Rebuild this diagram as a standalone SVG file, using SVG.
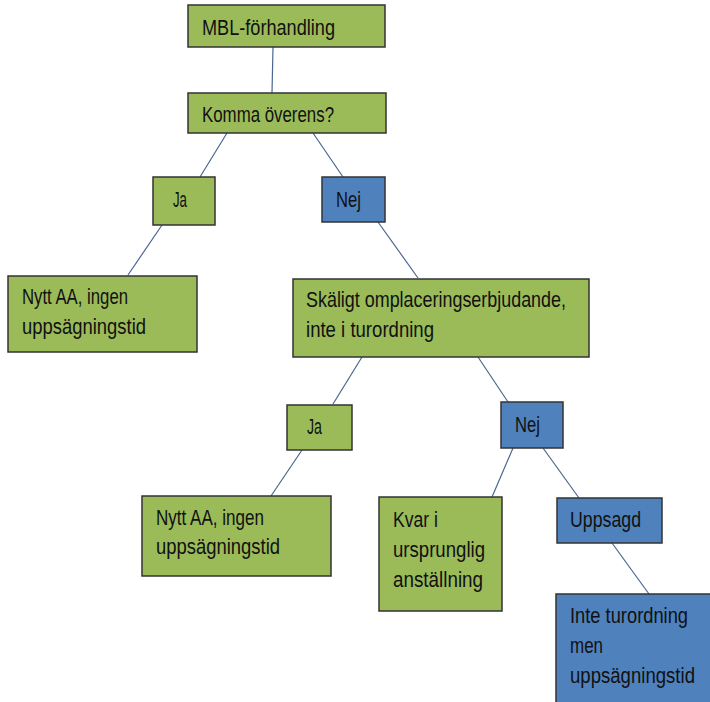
<svg xmlns="http://www.w3.org/2000/svg" width="710" height="702" viewBox="0 0 710 702">
<style>
.g{fill:#9BBB59;stroke:#333;stroke-width:1.5}
.b{fill:#4F81BD;stroke:#333;stroke-width:1.5}
text{font-family:"Liberation Sans Narrow","Liberation Sans",Arial,sans-serif;font-size:22px;fill:#111}
#connectors line{stroke:#4A6690;stroke-width:1.2}
</style>
<rect width="710" height="702" fill="#fff"/>
<g id="connectors">
<line x1="273" y1="47" x2="272" y2="93"/>
<line x1="227" y1="133" x2="200" y2="177"/>
<line x1="313" y1="133" x2="343" y2="177"/>
<line x1="162" y1="225" x2="128" y2="275"/>
<line x1="378" y1="222" x2="418" y2="278"/>
<line x1="362" y1="357" x2="333" y2="404"/>
<line x1="478" y1="357" x2="508" y2="402"/>
<line x1="302" y1="450" x2="271" y2="496"/>
<line x1="513" y1="448" x2="492" y2="497"/>
<line x1="543" y1="448" x2="579" y2="498"/>
<line x1="612" y1="543" x2="649" y2="594"/>
</g>
<g id="n1"><rect class="g" x="188" y="5" width="197" height="42"/><text x="202" y="35" textLength="133" lengthAdjust="spacingAndGlyphs">MBL-förhandling</text></g>
<g id="n2"><rect class="g" x="188" y="93" width="198" height="40"/><text x="202" y="122" textLength="132" lengthAdjust="spacingAndGlyphs">Komma överens?</text></g>
<g id="n3"><rect class="g" x="153" y="177" width="62" height="48"/><text x="173" y="207" textLength="14" lengthAdjust="spacingAndGlyphs">Ja</text></g>
<g id="n4"><rect class="b" x="322" y="177" width="63" height="45"/><text x="336" y="207" textLength="25" lengthAdjust="spacingAndGlyphs">Nej</text></g>
<g id="n5"><rect class="g" x="8" y="276" width="189" height="76"/><text x="22" y="304" textLength="106" lengthAdjust="spacingAndGlyphs">Nytt AA, ingen</text><text x="22" y="334" textLength="124" lengthAdjust="spacingAndGlyphs">uppsägningstid</text></g>
<g id="n6"><rect class="g" x="293" y="279" width="296" height="78"/><text x="306" y="307" textLength="260" lengthAdjust="spacingAndGlyphs">Skäligt omplaceringserbjudande,</text><text x="306" y="337" textLength="128" lengthAdjust="spacingAndGlyphs">inte i turordning</text></g>
<g id="n7"><rect class="g" x="287" y="405" width="65" height="45"/><text x="307" y="434" textLength="15" lengthAdjust="spacingAndGlyphs">Ja</text></g>
<g id="n8"><rect class="b" x="501" y="402" width="62" height="46"/><text x="515" y="432" textLength="25" lengthAdjust="spacingAndGlyphs">Nej</text></g>
<g id="n9"><rect class="g" x="142" y="496" width="189" height="80"/><text x="156" y="525" textLength="108" lengthAdjust="spacingAndGlyphs">Nytt AA, ingen</text><text x="156" y="554" textLength="124" lengthAdjust="spacingAndGlyphs">uppsägningstid</text></g>
<g id="n10"><rect class="g" x="379" y="497" width="123" height="114"/><text x="393" y="527" textLength="45" lengthAdjust="spacingAndGlyphs">Kvar i</text><text x="393" y="557" textLength="92" lengthAdjust="spacingAndGlyphs">ursprunglig</text><text x="393" y="587" textLength="90" lengthAdjust="spacingAndGlyphs">anställning</text></g>
<g id="n11"><rect class="b" x="557" y="498" width="105" height="45"/><text x="570" y="527" textLength="71" lengthAdjust="spacingAndGlyphs">Uppsagd</text></g>
<g id="n12"><rect class="b" x="556" y="594" width="160" height="120"/><text x="570" y="623" textLength="118" lengthAdjust="spacingAndGlyphs">Inte turordning</text><text x="570" y="653" textLength="33" lengthAdjust="spacingAndGlyphs">men</text><text x="570" y="683" textLength="125" lengthAdjust="spacingAndGlyphs">uppsägningstid</text></g>
</svg>
